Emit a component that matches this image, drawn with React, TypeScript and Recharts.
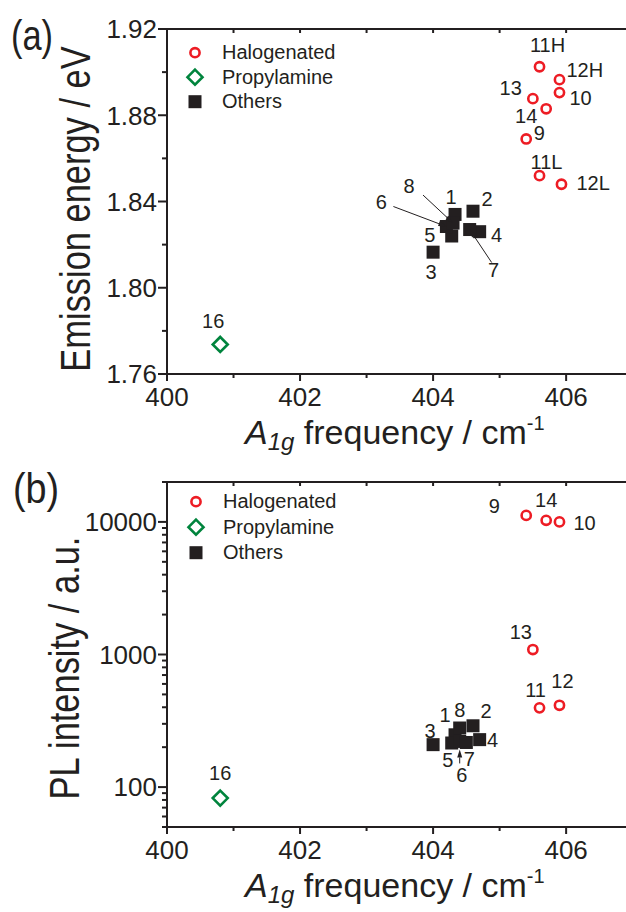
import { ScatterChart, Scatter, XAxis, YAxis, Legend } from "recharts"

const FONT = "'Liberation Sans', Arial, Helvetica, sans-serif"
const INK = "#231f20"
const RED = "#ed1c24"
const GREEN = "#00843d"

// shared x axis (A1g frequency, cm-1)
const freqTicks = [400, 401, 402, 403, 404, 405, 406]

// panel (a): emission energy
const energyTicks = [1.76, 1.78, 1.8, 1.82, 1.84, 1.86, 1.88, 1.9, 1.92]
const energyLabeled = [1.76, 1.8, 1.84, 1.88, 1.92]

const haloNamesA = ["9", "10", "11H", "11L", "12H", "12L", "13", "14"]
const haloFreqA = [405.4, 405.9, 405.6, 405.6, 405.9, 405.93, 405.5, 405.7]
const haloEnergyA = [1.869, 1.8905, 1.9025, 1.852, 1.8965, 1.848, 1.8877, 1.883]

const propNames = ["16"]
const propFreq = [400.8]
const propEnergyA = [1.7737]

const otherNames = ["1", "2", "3", "4", "5", "6", "7", "8"]
const otherFreqA = [404.33, 404.6, 404.0, 404.7, 404.28, 404.2, 404.55, 404.3]
const otherEnergyA = [1.834, 1.8355, 1.8165, 1.826, 1.824, 1.8284, 1.827, 1.83]

// panel (b): PL intensity
const intensityTicks = [
  50, 60, 70, 80, 90, 100, 200, 300, 400, 500, 600, 700, 800, 900, 1000,
  2000, 3000, 4000, 5000, 6000, 7000, 8000, 9000, 10000, 20000,
]
const intensityLabeled = [100, 1000, 10000]

const haloNamesB = ["9", "10", "11", "12", "13", "14"]
const haloFreqB = [405.4, 405.9, 405.6, 405.9, 405.5, 405.7]
const haloIntensityB = [11200, 10000, 396, 414, 1090, 10280]

const propIntensityB = [82.6]

const otherFreqB = [404.33, 404.6, 404.0, 404.7, 404.28, 404.4, 404.5, 404.4]
const otherIntensityB = [248, 290, 209, 228, 215, 221, 217, 279]

const seriesOrder = ["Halogenated", "Propylamine", "Others"]

const zip = (names: string[], xs: number[], ys: number[]) =>
  names.map((name, i) => ({ name, x: xs[i], y: ys[i] }))

const haloA = zip(haloNamesA, haloFreqA, haloEnergyA)
const propA = zip(propNames, propFreq, propEnergyA)
const otherA = zip(otherNames, otherFreqA, otherEnergyA)
const haloB = zip(haloNamesB, haloFreqB, haloIntensityB)
const propB = zip(propNames, propFreq, propIntensityB)
const otherB = zip(otherNames, otherFreqB, otherIntensityB)

type Kind = "circle" | "diamond" | "square"
type LabelPos = {
  dx: number
  dy: number
  anchor?: "start" | "middle" | "end"
  arrow?: [number, number]
  tip?: [number, number]
}

// where each point's number sits, relative to the marker
const labelPosA: Record<string, LabelPos> = {
  "9": { dx: 13, dy: 1 },
  "10": { dx: 10, dy: 12, anchor: "start" },
  "11H": { dx: 8, dy: -15 },
  "11L": { dx: 7, dy: -7 },
  "12H": { dx: 7, dy: -3, anchor: "start" },
  "12L": { dx: 15, dy: 6, anchor: "start" },
  "13": { dx: -11, dy: -4, anchor: "end" },
  "14": { dx: -20, dy: 14 },
  "16": { dx: -7, dy: -16 },
  "1": { dx: -4, dy: -10 },
  "2": { dx: 14, dy: -5 },
  "3": { dx: -2, dy: 27 },
  "4": { dx: 17, dy: 10 },
  "5": { dx: -22, dy: 6 },
  "6": { dx: -65, dy: -18, arrow: [-53, -20] },
  "7": { dx: 24, dy: 47, arrow: [22, 33] },
  "8": { dx: -44, dy: -30, arrow: [-30, -28] },
}

const labelPosB: Record<string, LabelPos> = {
  "9": { dx: -32, dy: -2 },
  "10": { dx: 14, dy: 8, anchor: "start" },
  "11": { dx: -4, dy: -11 },
  "12": { dx: 3, dy: -17 },
  "13": { dx: -12, dy: -11 },
  "14": { dx: 0, dy: -13 },
  "16": { dx: 0, dy: -18 },
  "1": { dx: -10, dy: -13 },
  "2": { dx: 13, dy: -8 },
  "3": { dx: -3, dy: -7 },
  "4": { dx: 13, dy: 7 },
  "5": { dx: -4, dy: 24 },
  "6": { dx: 2, dy: 41, arrow: [0, 22], tip: [0, 8] },
  "7": { dx: 3, dy: 24 },
  "8": { dx: 0, dy: -11 },
}

function Marker({ kind, cx, cy }: { kind: Kind; cx: number; cy: number }) {
  if (kind === "circle")
    return <circle cx={cx} cy={cy} r={4.6} fill="#fff" stroke={RED} strokeWidth={2.6} />
  if (kind === "diamond")
    return (
      <path
        d={`M${cx},${cy - 7.5}L${cx + 7.5},${cy}L${cx},${cy + 7.5}L${cx - 7.5},${cy}Z`}
        fill="#fff"
        stroke={GREEN}
        strokeWidth={2.6}
      />
    )
  return <rect x={cx - 6.5} y={cy - 6.5} width={13} height={13} fill={INK} />
}

function Arrow({ x1, y1, x2, y2 }: { x1: number; y1: number; x2: number; y2: number }) {
  const len = Math.hypot(x2 - x1, y2 - y1) || 1
  const ux = (x2 - x1) / len
  const uy = (y2 - y1) / len
  const bx = x2 - ux * 8
  const by = y2 - uy * 8
  return (
    <g>
      <line x1={x1} y1={y1} x2={bx} y2={by} stroke={INK} strokeWidth={1} />
      <polygon
        points={`${x2},${y2} ${bx - uy * 2.5},${by + ux * 2.5} ${bx + uy * 2.5},${by - ux * 2.5}`}
        fill={INK}
      />
    </g>
  )
}

const makeShape = (kind: Kind, pos: Record<string, LabelPos>) => (props: any) => {
  const { cx, cy, payload } = props
  const lp = pos[payload.name]
  return (
    <g>
      <Marker kind={kind} cx={cx} cy={cy} />
      {lp && lp.arrow && (
        <Arrow
          x1={cx + lp.arrow[0]}
          y1={cy + lp.arrow[1]}
          x2={cx + (lp.tip ? lp.tip[0] : 0)}
          y2={cy + (lp.tip ? lp.tip[1] : 0)}
        />
      )}
      {lp && (
        <text
          x={cx + lp.dx}
          y={cy + lp.dy}
          textAnchor={lp.anchor || "middle"}
          fontFamily={FONT}
          fontSize={20}
          fill={INK}
        >
          {payload.name}
        </text>
      )}
    </g>
  )
}

const XTick = (props: any) => {
  const { x, y, payload } = props
  const major = payload.value % 2 === 0
  return (
    <g>
      <line x1={x} y1={y} x2={x} y2={y + (major ? 7 : 4)} stroke={INK} strokeWidth={2} />
      {major && (
        <text x={x} y={y + 32} textAnchor="middle" fontFamily={FONT} fontSize={26} fill={INK}>
          {payload.value}
        </text>
      )}
    </g>
  )
}

const TopTick = (props: any) => {
  const { x, y } = props
  return <line x1={x} y1={y} x2={x} y2={y + 4} stroke={INK} strokeWidth={2} />
}

const makeYTick = (labeled: number[], fmt: (v: number) => string) => (props: any) => {
  const { x, y, payload } = props
  const major = labeled.some((v) => Math.abs(v - payload.value) < 1e-9)
  return (
    <g>
      <line x1={x} y1={y} x2={x - (major ? 9 : 5)} y2={y} stroke={INK} strokeWidth={2} />
      {major && (
        <text x={x - 10} y={y + 9.3} textAnchor="end" fontFamily={FONT} fontSize={26} fill={INK}>
          {fmt(payload.value)}
        </text>
      )}
    </g>
  )
}

const legendKinds: Record<string, Kind> = {
  Halogenated: "circle",
  Propylamine: "diamond",
  Others: "square",
}

const makeLegend = (rowGap: number) => (props: any) => {
  const present = (props.payload || []).map((e: any) => e.value)
  const names = seriesOrder.filter((n) => present.includes(n))
  return (
    <svg width={220} height={90} style={{ display: "block" }}>
      {names.map((name, i) => {
        const cy = 12.7 + i * rowGap
        return (
          <g key={name}>
            <Marker kind={legendKinds[name]} cx={15} cy={cy} />
            <text x={42} y={cy + 6.5} fontFamily={FONT} fontSize={20} fill={INK}>
              {name}
            </text>
          </g>
        )
      })}
    </svg>
  )
}

function XTitle({ y }: { y: number }) {
  return (
    <text x={245} y={y} fontFamily={FONT} fontSize={34} fill={INK}>
      <tspan fontStyle="italic">A</tspan>
      <tspan fontStyle="italic" fontSize={24} dy={6}>
        1g
      </tspan>
      <tspan dy={-6}>{" frequency / cm"}</tspan>
      <tspan fontSize={20} dy={-14}>
        -1
      </tspan>
    </text>
  )
}

const axisLine = { stroke: INK, strokeWidth: 2 }

function FreqAxes() {
  return null
}

export default function App() {
  const xCommon = {
    type: "number" as const,
    dataKey: "x",
    domain: [400, 406.9] as [number, number],
    ticks: freqTicks,
    interval: 0 as const,
    allowDataOverflow: true,
    height: 1,
    tickSize: 0,
    tickMargin: 0,
    tickLine: false,
    axisLine,
  }
  const yCommon = {
    type: "number" as const,
    dataKey: "y",
    interval: 0 as const,
    allowDataOverflow: true,
    width: 1,
    tickSize: 0,
    tickMargin: 0,
    tickLine: false,
    axisLine,
  }
  return (
    <div style={{ position: "absolute", left: 0, top: 0, width: 626, height: 912, background: "#fff" }}>
      <div style={{ position: "absolute", left: 0, top: 0 }}>
        <ScatterChart width={626} height={456} margin={{ top: 28, right: 0, bottom: 81, left: 166 }}>
          <XAxis {...xCommon} tick={<XTick />} />
          <XAxis {...xCommon} xAxisId="top" orientation="top" tick={<TopTick />} />
          <YAxis
            {...yCommon}
            domain={[1.76, 1.92]}
            ticks={energyTicks}
            tick={makeYTick(energyLabeled, (v) => v.toFixed(2))}
          />
          <Legend
            layout="vertical"
            align="center"
            verticalAlign="middle"
            wrapperStyle={{ left: 180, top: 40, width: 220 }}
            content={makeLegend(24.5)}
          />
          <Scatter name="Halogenated" data={haloA} shape={makeShape("circle", labelPosA)} isAnimationActive={false} />
          <Scatter name="Propylamine" data={propA} shape={makeShape("diamond", labelPosA)} isAnimationActive={false} />
          <Scatter name="Others" data={otherA} shape={makeShape("square", labelPosA)} isAnimationActive={false} />
        </ScatterChart>
      </div>

      <div style={{ position: "absolute", left: 0, top: 456 }}>
        <ScatterChart width={626} height={456} margin={{ top: 25, right: 0, bottom: 84, left: 166 }}>
          <XAxis {...xCommon} tick={<XTick />} />
          <XAxis {...xCommon} xAxisId="top" orientation="top" tick={<TopTick />} />
          <YAxis
            {...yCommon}
            scale="log"
            domain={[50, 20000]}
            ticks={intensityTicks}
            tick={makeYTick(intensityLabeled, (v) => String(v))}
          />
          <Legend
            layout="vertical"
            align="center"
            verticalAlign="middle"
            wrapperStyle={{ left: 181, top: 33, width: 220 }}
            content={makeLegend(25.5)}
          />
          <Scatter name="Halogenated" data={haloB} shape={makeShape("circle", labelPosB)} isAnimationActive={false} />
          <Scatter name="Propylamine" data={propB} shape={makeShape("diamond", labelPosB)} isAnimationActive={false} />
          <Scatter name="Others" data={otherB} shape={makeShape("square", labelPosB)} isAnimationActive={false} />
        </ScatterChart>
      </div>

      <svg
        width={626}
        height={912}
        style={{ position: "absolute", left: 0, top: 0, pointerEvents: "none" }}
      >
        <text transform="translate(11,50) scale(0.82,1)" fontFamily={FONT} fontSize={42} fill={INK}>
          (a)
        </text>
        <text
          transform="translate(90,209) rotate(-90) scale(0.82,1)"
          textAnchor="middle"
          fontFamily={FONT}
          fontSize={42}
          fill={INK}
        >
          Emission energy / eV
        </text>
        <XTitle y={444} />

        <text transform="translate(13,503) scale(0.9,1)" fontFamily={FONT} fontSize={42} fill={INK}>
          (b)
        </text>
        <text
          transform="translate(79,668) rotate(-90) scale(0.82,1)"
          textAnchor="middle"
          fontFamily={FONT}
          fontSize={42}
          fill={INK}
        >
          PL intensity / a.u.
        </text>
        <XTitle y={897} />
      </svg>
    </div>
  )
}
